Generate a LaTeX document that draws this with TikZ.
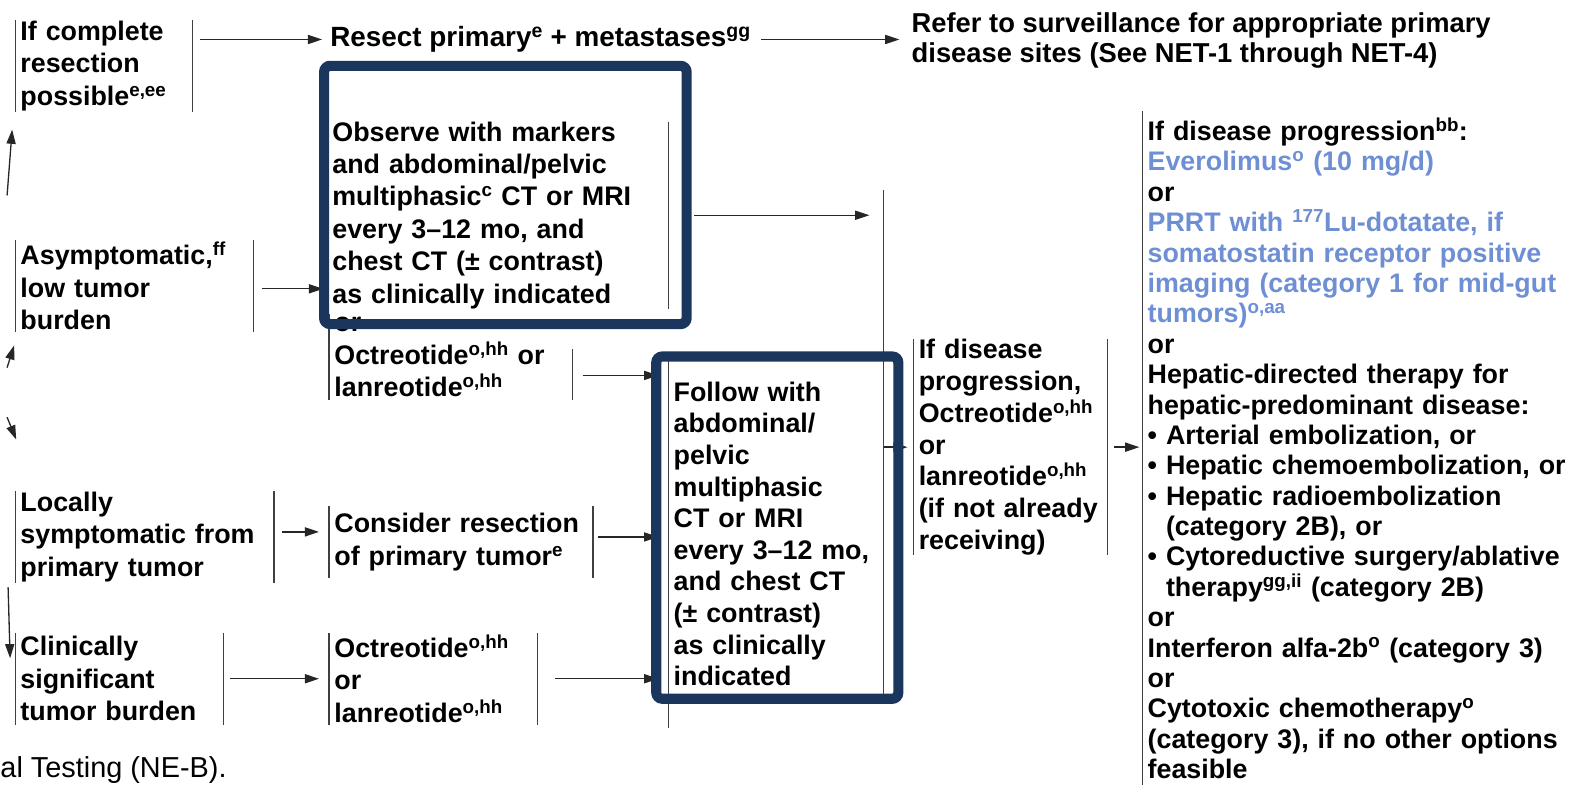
\documentclass[tikz,border=0pt]{standalone}
\usepackage{fontspec}
\usetikzlibrary{arrows.meta}
\newfontfamily\chartfont{Liberation Sans}
\definecolor{navy}{RGB}{27,54,93}
\definecolor{drugblue}{RGB}{110,143,212}
\newcommand*{\txt}{\chartfont\bfseries\fontsize{26.5}{32}\selectfont}
\newcommand*{\sus}[1]{\textsuperscript{#1}}

\tikzset{
  stepbox/.style={anchor=north west, align=left, inner xsep=5pt, inner ysep=0pt, font=\txt},
  plain/.style={anchor=west, align=left, inner sep=0pt, font=\txt},
  arr/.style={-{Triangle[length=14pt,width=9pt]}, line width=1.3pt, black!85},
  brk/.style={line width=1.3pt, black!75},
  hlbox/.style={draw=navy, line width=10pt, rounded corners=6pt},
}

\begin{document}
\begin{tikzpicture}[x=1pt,y=-1pt]
  \useasboundingbox (0,0) rectangle (1568,775);

  % first column
  \node[stepbox, text width=165pt, minimum height=90pt] (cres) at (15,20) {If complete\\resection\\possible\sus{e,ee}};
  \node[stepbox, text width=225pt, minimum height=90pt] (asym) at (15,237) {Asymptomatic,\sus{ff}\\low tumor\\burden};
  \node[stepbox, text width=245pt, minimum height=90pt] (local) at (15,485) {Locally\\symptomatic from\\primary tumor};
  \node[stepbox, text width=195pt, minimum height=90pt] (burden) at (15,625) {Clinically\\significant\\tumor burden};

  % second column
  \node[plain, font=\txt\fontsize{27.5}{32}\selectfont] (resect) at (326,39) {Resect primary\sus{e} + metastases\sus{gg}};
  \node[plain, font=\txt\fontsize{27}{30}\selectfont] (refer) at (900,40) {Refer to surveillance for appropriate primary\\disease sites (See NET-1 through NET-4)};
  \node[stepbox, text width=327pt, minimum height=182pt] (observe) at (323,120) {Observe with markers\\and abdominal/pelvic\\multiphasic\sus{c} CT or MRI\\every 3–12 mo, and\\chest CT (± contrast)\\as clinically indicated};
  \node[stepbox, text width=230pt, minimum height=85pt] (ssa) at (325,310) {or\\Octreotide\sus{o,hh} or\\lanreotide\sus{o,hh}};
  \node[stepbox, text width=250pt, minimum height=70pt] (consider) at (325,500) {Consider resection\\of primary tumor\sus{e}};
  \node[stepbox, text width=195pt, minimum height=90pt] (ssab) at (325,625) {Octreotide\sus{o,hh}\\or\\lanreotide\sus{o,hh}};

  % follow-up and progression
  \node[stepbox, text width=202pt, minimum height=374pt, font=\txt\fontsize{26.5}{31.2}\selectfont] (follow) at (660,340) {Follow with\\abdominal/\\pelvic\\multiphasic\\CT or MRI\\every 3–12 mo,\\and chest CT\\(± contrast)\\as clinically\\indicated};
  \node[stepbox, text width=181pt, minimum height=210pt, font=\txt\fontsize{26.5}{31.3}\selectfont] (prog) at (902,335) {If disease\\progression,\\Octreotide\sus{o,hh}\\or\\lanreotide\sus{o,hh}\\(if not already\\receiving)};
  \node[stepbox, text width=430pt, minimum height=665pt, font=\txt\fontsize{26.5}{30}\selectfont] (options) at (1128,110) {If disease progression\sus{bb}:\\
    {\color{drugblue}Everolimus\sus{o} (10 mg/d)}\\
    or\\
    {\color{drugblue}PRRT with \sus{177}Lu-dotatate, if}\\
    {\color{drugblue}somatostatin receptor positive}\\
    {\color{drugblue}imaging (category 1 for mid-gut}\\
    {\color{drugblue}tumors)\sus{o,aa}}\\
    or\\
    Hepatic-directed therapy for\\
    hepatic-predominant disease:\\
    • Arterial embolization, or\\
    • Hepatic chemoembolization, or\\
    • Hepatic radioembolization\\
    \phantom{• }(category 2B), or\\
    • Cytoreductive surgery/ablative\\
    \phantom{• }therapy\sus{gg,ii} (category 2B)\\
    or\\
    Interferon alfa-2b\sus{o} (category 3)\\
    or\\
    Cytotoxic chemotherapy\sus{o}\\
    (category 3), if no other options\\
    feasible};

  \node[plain, font=\chartfont\fontsize{28.5}{32}\selectfont] (footer) at (-14,760) {cal Testing (NE-B).};

  % brackets
  \foreach \n in {cres,asym,local,consider,burden,ssab,prog}
    \draw[brk] (\n.north west) -- (\n.south west) (\n.north east) -- (\n.south east);
  \draw[brk] (observe.north east) -- (observe.south east);
  \draw[brk] (ssa.north west) -- (ssa.south west) ([yshift=-35pt]ssa.north east) -- (ssa.south east);
  \draw[brk] ([yshift=-15pt]follow.north west) -- ([yshift=-4pt]follow.south west);
  \draw[brk] (options.north west) -- (options.south west);
  \coordinate (mtop) at (follow.north east |- 0,188);
  \coordinate (mbot) at (follow.north east |- 0,690);
  \draw[brk] (mtop) -- (mbot);

  % connectors
  \draw[arr] ([xshift=7pt]cres.east |- resect.west) -- ([xshift=-8pt]resect.west);
  \draw[arr] ([xshift=10pt]resect.east) -- ([xshift=-12pt]refer.west |- resect.east);
  \draw[arr] ([xshift=8pt,yshift=-3pt]asym.east) -- ([xshift=-4pt,yshift=-3pt]asym.east -| observe.west);
  \draw[arr] ([xshift=25pt]observe.east) -- ([xshift=-14pt]observe.east -| mtop);
  \draw[arr] ([xshift=10pt,yshift=-18pt]ssa.east) -- ([xshift=-10pt,yshift=-18pt]ssa.east -| follow.west);
  \draw[arr] ([xshift=8pt,yshift=5pt]local.east) -- ([xshift=-10pt,yshift=5pt]local.east -| consider.west);
  \draw[arr] ([xshift=5pt,yshift=5pt]consider.east) -- ([xshift=-10pt,yshift=5pt]consider.east -| follow.west);
  \draw[arr] ([xshift=7pt]burden.east) -- ([xshift=-10pt]burden.east -| ssab.west);
  \draw[arr] ([xshift=18pt]ssab.east) -- ([xshift=-10pt]ssab.east -| follow.west);
  \draw[arr] (mtop |- prog.west) -- ([xshift=-6pt]prog.west);
  \draw[arr] ([xshift=7pt]prog.east) -- ([xshift=-3pt]prog.east -| options.west);

  % cut-off connectors on the left edge
  \coordinate (lua) at (7,193);  \coordinate (lub) at (12,128);
  \coordinate (lma) at (7,363);  \coordinate (lmb) at (14,341);
  \coordinate (lna) at (7,412);  \coordinate (lnb) at (16,434);
  \coordinate (lda) at (8,580);  \coordinate (ldb) at (10,650);
  \draw[arr] (lua) -- (lub);
  \draw[arr] (lma) -- (lmb);
  \draw[arr] (lna) -- (lnb);
  \draw[arr] (lda) -- (ldb);

  % highlight frames
  \draw[hlbox] (320,65) rectangle (678,320);
  \draw[hlbox] (648,352) rectangle (887,690);
\end{tikzpicture}
\end{document}
